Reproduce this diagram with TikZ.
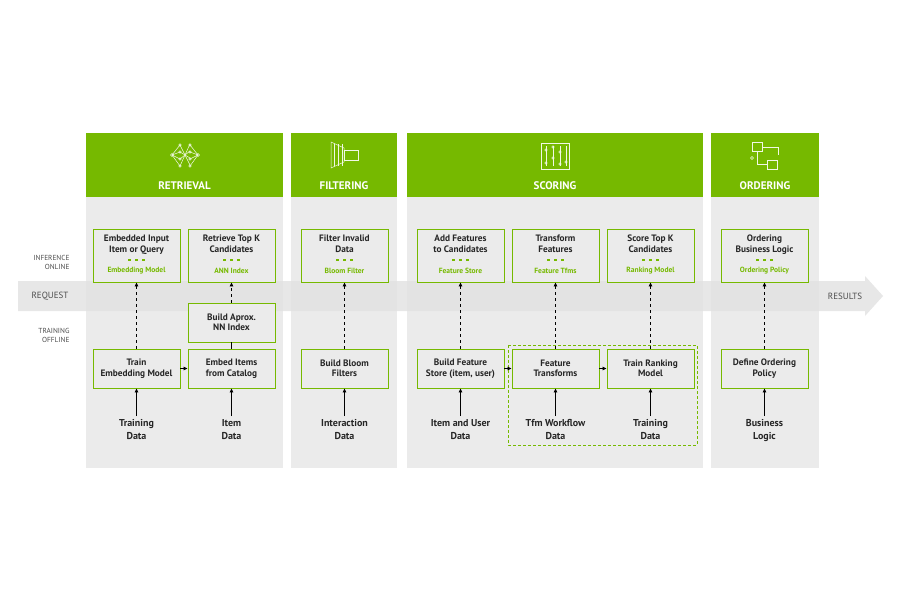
\documentclass[tikz,border=0pt]{standalone}
\usepackage{fontspec}
\setmainfont{PT Sans}
\usetikzlibrary{arrows.meta}
\definecolor{nv}{HTML}{76B900}
\definecolor{pan}{HTML}{EBEBEB}
\definecolor{band}{HTML}{E2E2E2}
\begin{document}
\begin{tikzpicture}[x=1pt,y=-1pt,
 box/.style={draw=nv,line width=0.9pt,fill=pan,inner sep=0pt},
 btxt/.style={font=\bfseries\fontsize{9.3}{10.5}\selectfont,align=center,text=black!85},
 sub/.style={font=\bfseries\fontsize{7.5}{8}\selectfont,text=nv},
 hdr/.style={font=\bfseries\fontsize{11}{12}\selectfont,text=white},
 side/.style={font=\fontsize{7.3}{9}\selectfont,align=right,text=black!70,anchor=east},
 darr/.style={-{Triangle[length=4pt,width=3.5pt]},dashed,line width=0.8pt},
 sarr/.style={-{Triangle[length=4pt,width=3.5pt]},line width=0.8pt},
 ic/.style={draw=white!90!nv,line width=0.5pt}]
\useasboundingbox (0,0) rectangle (900,600);
\fill[white] (0,0) rectangle (900,600);
% panels
\foreach \a/\b in {86/283,291/397,407/703,711/819}{
 \fill[pan] (\a,197) rectangle (\b,468);
 \fill[nv] (\a,133) rectangle (\b,197);}
% band
\fill[band,opacity=0.8] (18,281) -- (865,281) -- (865,276) -- (883,296) -- (865,316) -- (865,311) -- (18,311) -- cycle;
\node[font=\fontsize{9}{10}\selectfont,text=black!70] (req) at (50,296) {REQUEST};
\node[font=\fontsize{9}{10}\selectfont,text=black!70] (res) at (845,296) {RESULTS};
\node[side] (inf) at (73,262) {INFERENCE\\ONLINE};
\node[side] (trn) at (73,335) {TRAINING\\OFFLINE};
% headers
\node[hdr] (h1) at (184.5,186) {RETRIEVAL};
\node[hdr] (h2) at (344,186) {FILTERING};
\node[hdr] (h3) at (555,186) {SCORING};
\node[hdr] (h4) at (765,186) {ORDERING};
% icons
\begin{scope}[ic]
 \foreach \y in {145,152,159,166}{\draw (172,155) -- (180,\y); \draw (198,155) -- (190,\y);}
 \foreach \y in {145,152,159,166}{\draw (180,\y) -- (190,158-\y+152); \draw (180,\y) circle (1.2); \draw (190,\y) circle (1.2);}
 \draw (172,155) circle (1.5); \draw (198,155) circle (1.5);
 \draw (331,142) -- (344,148) -- (344,162) -- (331,168) -- cycle;
 \foreach \x in {334,338,342}{\draw (\x,144) -- (\x,166);}
 \draw (344,150) rectangle (358,160);
 \draw (541,143) rectangle (569,169);
 \foreach \x in {546,553,560,566}{\draw (\x,146) -- (\x,166);}
 \foreach \x/\y in {546/150,553/158,560/152,566/162,546/163,553/147,560/164}{\draw (\x,\y) circle (1.3);}
 \draw (752,142) rectangle (762,151); \draw (767,160) rectangle (777,169);
 \draw (757,151) -- (757,164) -- (767,164); \draw (762,147) -- (778,147) -- (778,155);
 \draw (752,158) circle (1.5);
\end{scope}
% top boxes
\newcommand{\topbox}[5]{%
 \node[box,minimum width=87pt,minimum height=53pt] (#1) at (#2,255.5) {};
 \node[btxt,anchor=north] (#1t) at (#2,231.5) {#3\\#4};
 \foreach \d in {-7,0,7}{\fill[nv] (#2+\d-1.4,258.5) rectangle ++(2.8,2.8);}
 \node[sub] (#1s) at (#2,270.5) {#5};}
\topbox{t1}{136.5}{Embedded Input}{Item or Query}{Embedding Model}
\topbox{t2}{231.5}{Retrieve Top K}{Candidates}{ANN Index}
\topbox{t3}{344.5}{Filter Invalid}{Data}{Bloom Filter}
\topbox{t4}{460.5}{Add Features}{to Candidates}{Feature Store}
\topbox{t5}{555.5}{Transform}{Features}{Feature Tfms}
\topbox{t6}{650.5}{Score Top K}{Candidates}{Ranking Model}
\topbox{t7}{764.5}{Ordering}{Business Logic}{Ordering Policy}
% bottom
\tikzset{bb/.style={box,minimum width=87pt,minimum height=39pt,btxt}}
\node[bb] (ann) at (231.5,322.5) {Build Aprox.\\NN Index};
\node[bb] (b1) at (136.5,368.5) {Train\\Embedding Model};
\node[bb] (b2) at (231.5,368.5) {Embed Items\\from Catalog};
\node[bb] (b3) at (344.5,368.5) {Build Bloom\\Filters};
\node[bb] (b4) at (460.5,368.5) {Build Feature\\Store (item, user)};
\node[bb] (b5) at (555.5,368.5) {Feature\\Transforms};
\node[bb] (b6) at (650.5,368.5) {Train Ranking\\Model};
\node[bb] (b7) at (764.5,368.5) {Define Ordering\\Policy};
\draw[nv,line width=0.8pt,dash pattern=on 3pt off 2pt] (508,345) rectangle (697,445);
% sources
\tikzset{src/.style={btxt,font=\bfseries\fontsize{10}{13}\selectfont,anchor=north}}
\foreach \n/\x/\p/\q in {s1/136.5/Training/Data,s2/231.5/Item/Data,s3/344.5/Interaction/Data,s4/460.5/Item and User/Data,s5/555.5/Tfm Workflow/Data,s6/650.5/Training/Data,s7/764.5/Business/Logic}{
 \node[src] (\n) at (\x,416) {\p\\\q};}
\foreach \i in {1,...,7}{\draw[sarr] (s\i.north) -- (b\i.south);}
% dashed up
\foreach \p/\q in {b1/t1,ann/t2,b3/t3,b4/t4,b5/t5,b6/t6,b7/t7}{\draw[darr] (\p.north) -- (\q.south);}
\draw[line width=0.8pt] (b2.north) -- (ann.south);
\draw[sarr] (b1.east) -- (b2.west);
\draw[sarr] (b4.east) -- (b5.west);
\draw[sarr] (b5.east) -- (b6.west);
\end{tikzpicture}
\end{document}
